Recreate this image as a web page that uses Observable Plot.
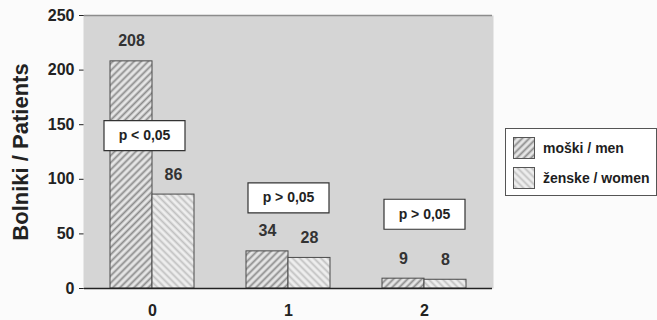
<!DOCTYPE html>
<html>
<head>
<meta charset="utf-8">
<script src="https://cdn.jsdelivr.net/npm/d3@7"></script>
<script src="https://cdn.jsdelivr.net/npm/@observablehq/plot@0.6"></script>
<style>
  html, body { margin: 0; padding: 0; background: #fbfbfb; }
  #wrap { position: relative; width: 657px; height: 320px; font-family: "Liberation Sans", Arial, sans-serif; font-weight: bold; }
  #wrap svg [aria-label="y-axis label"] text, #wrap svg [aria-label="y-axis label"] { font-size: 22px; }
  #legend { position: absolute; left: 505px; top: 128px; width: 152px; height: 68px; border: 1px solid #555; background: #fff; box-sizing: border-box; }
  .item { position: absolute; left: 7px; display: flex; align-items: center; font-size: 14px; color: #1e1e1e; white-space: nowrap; }
  .item svg { margin-right: 8px; }
</style>
</head>
<body>
<div id="wrap"></div>
<script>
const categories = ["0", "1", "2"];
const sexes = ["moški / men", "ženske / women"];
const men = [208, 34, 9];
const women = [86, 28, 8];
const pLabels = ["p < 0,05", "p > 0,05", "p > 0,05"];
const pPos = [140, 83, 68];
const yTicks = [0, 50, 100, 150, 200, 250];
const yLabel = "Bolniki / Patients";

const rows = categories.flatMap((c, i) => [
  {cat: c, sex: sexes[0], n: men[i]},
  {cat: c, sex: sexes[1], n: women[i]}
]);
const pRows = categories.map((c, i) => ({cat: c, p: pLabels[i], y: pPos[i]}));
const pFirst = pRows.slice(0, 1);
const pRest = pRows.slice(1);

const half = (657 - 83 - 164) / 3 / 2;
const boxSymbol = {draw(ctx) { ctx.rect(-40.5, -15, 81, 30); }};

const pMarks = (data, dx) => [
  Plot.dot(data, {fx: "cat", y: "y", symbol: boxSymbol, r: 5, fill: "#fff", stroke: "#333", strokeWidth: 1.2, dx}),
  Plot.text(data, {fx: "cat", y: "y", text: "p", fontSize: 14, fill: "#222", dx})
];

const chart = Plot.plot({
  width: 657, height: 320,
  marginLeft: 83, marginRight: 164, marginTop: 15, marginBottom: 32,
  style: {fontFamily: "'Liberation Sans', Arial, sans-serif", fontWeight: "bold", fontSize: "16px", background: "transparent", color: "#222"},
  fx: {domain: categories, padding: 0, axis: "bottom", tickSize: 0, tickPadding: 16, label: null},
  x: {domain: sexes, paddingInner: 0, paddingOuter: 0.6, axis: null},
  y: {domain: [0, 250], ticks: yTicks, tickSize: 5, tickPadding: 5, label: yLabel, labelAnchor: "center", labelArrow: "none", labelOffset: 72},
  color: {domain: sexes, range: ["url(#hatch-men)", "url(#hatch-women)"]},
  marks: [
    Plot.frame({fill: "#d5d5d5", stroke: null, insetLeft: -1, insetRight: -1}),
    Plot.ruleY([250], {stroke: "#8c8c8c", strokeWidth: 1.5}),
    Plot.ruleX(["2"], {fx: d => d, y1: 250, y2: 0, dx: half, insetBottom: -8, stroke: "#8c8c8c", strokeWidth: 1.5}),
    Plot.ruleX(categories, {fx: d => d, y1: d => d === "0" ? 250 : 0, y2: 0, dx: -half, insetBottom: -8, stroke: "#222", strokeWidth: 1.3}),
    Plot.barY(rows, {fx: "cat", x: "sex", y: "n", fill: "sex", stroke: "#4a4a4a", strokeWidth: 1}),
    Plot.ruleY([0], {stroke: "#222", strokeWidth: 1.3}),
    Plot.text(rows, {fx: "cat", x: "sex", y: "n", text: d => String(d.n), dy: -20, fontSize: 16, fill: "#333"}),
    ...pMarks(pFirst, -8),
    ...pMarks(pRest, 0)
  ]
});

const svg = d3.select(chart);
const defs = svg.insert("defs", ":first-child");
function hatch(id, angle, bg, line, w, period) {
  const p = defs.append("pattern").attr("id", id).attr("patternUnits", "userSpaceOnUse")
    .attr("width", period).attr("height", period).attr("patternTransform", `rotate(${angle})`);
  p.append("rect").attr("width", period).attr("height", period).attr("fill", bg);
  p.append("line").attr("x1", period / 2).attr("x2", period / 2).attr("y1", 0).attr("y2", period)
    .attr("stroke", line).attr("stroke-width", w);
}
hatch("hatch-men", 45, "#e6e6e6", "#8a8a8a", 1.8, 5);
hatch("hatch-women", -45, "#eeeeee", "#c0c0c0", 1.8, 5);

document.getElementById("wrap").appendChild(chart);

const legend = document.createElement("div");
legend.id = "legend";
sexes.forEach((s, i) => {
  const item = document.createElement("div");
  item.className = "item";
  item.style.top = (8 + i * 30) + "px";
  item.innerHTML = `<svg width="22" height="22"><rect x="0.5" y="0.5" width="21" height="21" fill="${i ? "url(#hatch-women)" : "url(#hatch-men)"}" stroke="#555"/></svg><span>${s}</span>`;
  legend.appendChild(item);
});
document.getElementById("wrap").appendChild(legend);
</script>
</body>
</html>
